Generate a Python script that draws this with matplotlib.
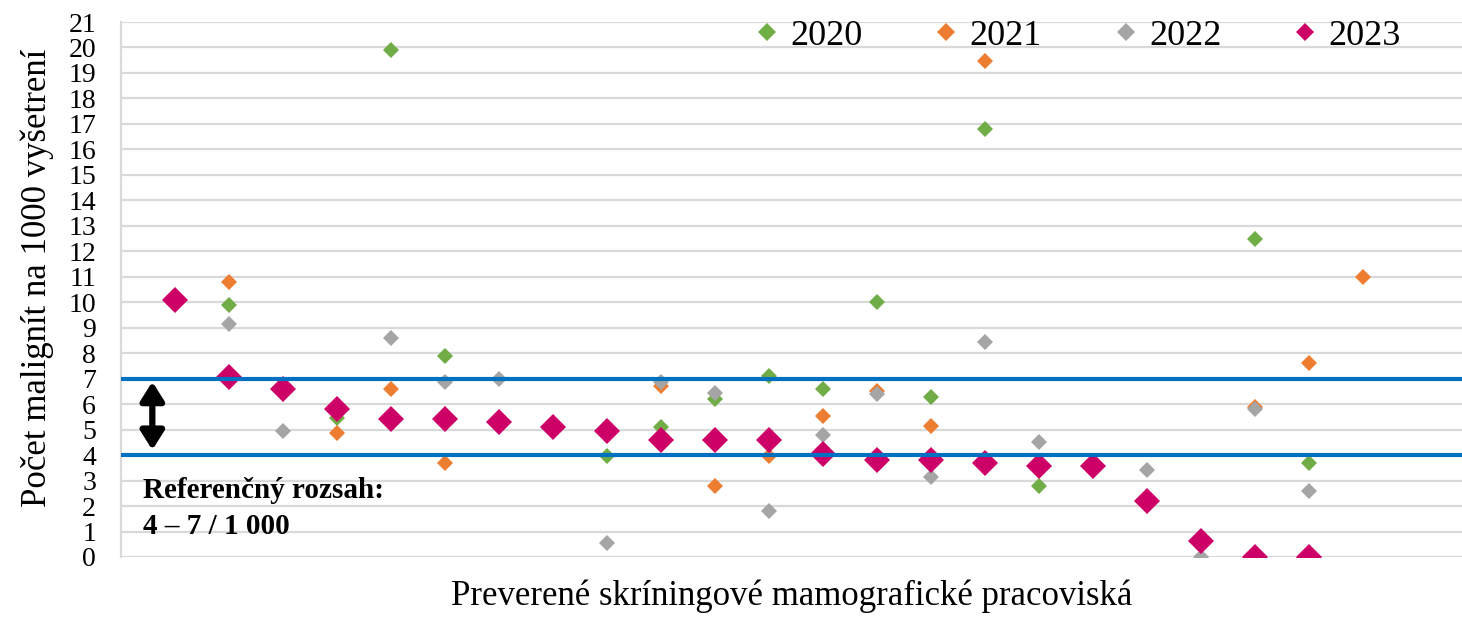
import numpy as np
import matplotlib.pyplot as plt

nan = np.nan

# preverené pracoviská (poradie na osi x)
sites = np.arange(1, 24)
years = ['2020', '2021', '2022', '2023']

y2020 = [nan, 9.9, nan, 5.45, 19.9, 7.9, nan, nan, 3.95, 5.1, 6.2, 7.1,
         6.6, 10.0, 6.3, 16.8, 2.8, nan, nan, nan, 12.5, 3.7, nan]
y2021 = [nan, 10.8, nan, 4.85, 6.6, 3.7, nan, nan, nan, 6.7, 2.8, 3.95,
         5.55, 6.5, 5.15, 19.45, 3.45, nan, nan, nan, 5.9, 7.6, 11.0]
y2022 = [nan, 9.15, 4.95, nan, 8.6, 6.85, 7.0, nan, 0.55, 6.85, 6.45, 1.8,
         4.8, 6.4, 3.15, 8.45, 4.5, nan, 3.4, 0.0, 5.8, 2.6, nan]
y2023 = [10.1, 7.08, 6.6, 5.82, 5.43, 5.43, 5.3, 5.1, 4.93, 4.6, 4.6, 4.6,
         4.05, 3.8, 3.8, 3.7, 3.58, 3.58, 2.18, 0.63, 0.0, 0.0, nan]

ref_low, ref_high = 4, 7

colors = ['#70AD47', '#ED7D31', '#A5A5A5', '#CC0066']
sizes = [8.5, 8.5, 8.5, 13.5]

plt.rcParams['font.family'] = ['Liberation Serif', 'DejaVu Serif']

fig = plt.figure(figsize=(14.62, 6.19), dpi=100)
ax = fig.add_axes([121 / 1462, 62 / 619, 1341 / 1462, 535 / 619])

for vals, yr, c, ms in zip([y2020, y2021, y2022, y2023], years, colors, sizes):
    ax.plot(sites, vals, linestyle='none', marker='D', markersize=ms,
            color=c, markeredgewidth=0, label=yr, zorder=3)

ax.axhline(ref_low, color='#0070C0', lw=3, zorder=4)
ax.axhline(ref_high, color='#0070C0', lw=3, zorder=4)

ax.annotate('', xy=(0.58, ref_low + 0.2), xytext=(0.58, ref_high - 0.12),
            arrowprops=dict(arrowstyle='<|-|>,head_length=0.35,head_width=0.22',
                            color='black', lw=4.5, mutation_scale=32,
                            shrinkA=0, shrinkB=0),
            zorder=5)
ax.text(0.41, 1.9, 'Referenčný rozsah:\n4 – 7 / 1 000', fontsize=21,
        fontweight='bold', va='center', ha='left', linespacing=1.4, zorder=5)

ax.set_xlim(0, 24.83)
ax.set_ylim(0, 21)
ax.set_yticks(range(0, 22))
ax.set_xticks([])
ax.grid(axis='y', color='#D9D9D9', lw=1.6, zorder=0)
ax.set_axisbelow(True)
for s in ['top', 'right', 'bottom']:
    ax.spines[s].set_visible(False)
ax.spines['left'].set_color('#D9D9D9')
ax.spines['left'].set_linewidth(1.6)
ax.tick_params(axis='y', length=0, pad=18, labelsize=20)

ax.set_ylabel('Počet malignít na 1000 vyšetrení', fontsize=25)
ax.yaxis.set_label_coords(-0.05, 0.522)
ax.set_xlabel('Preverené skríningové mamografické pracoviská', fontsize=25,
              labelpad=16)

leg = ax.legend(loc='upper left', bbox_to_anchor=(0.46, 1.032), ncol=4,
                frameon=False, fontsize=26, handlelength=0.8,
                handletextpad=0.25, columnspacing=1.92, borderaxespad=0)
for h in leg.legend_handles:
    h.set_markersize(9.5)

fig.savefig('out.png', dpi=100)
